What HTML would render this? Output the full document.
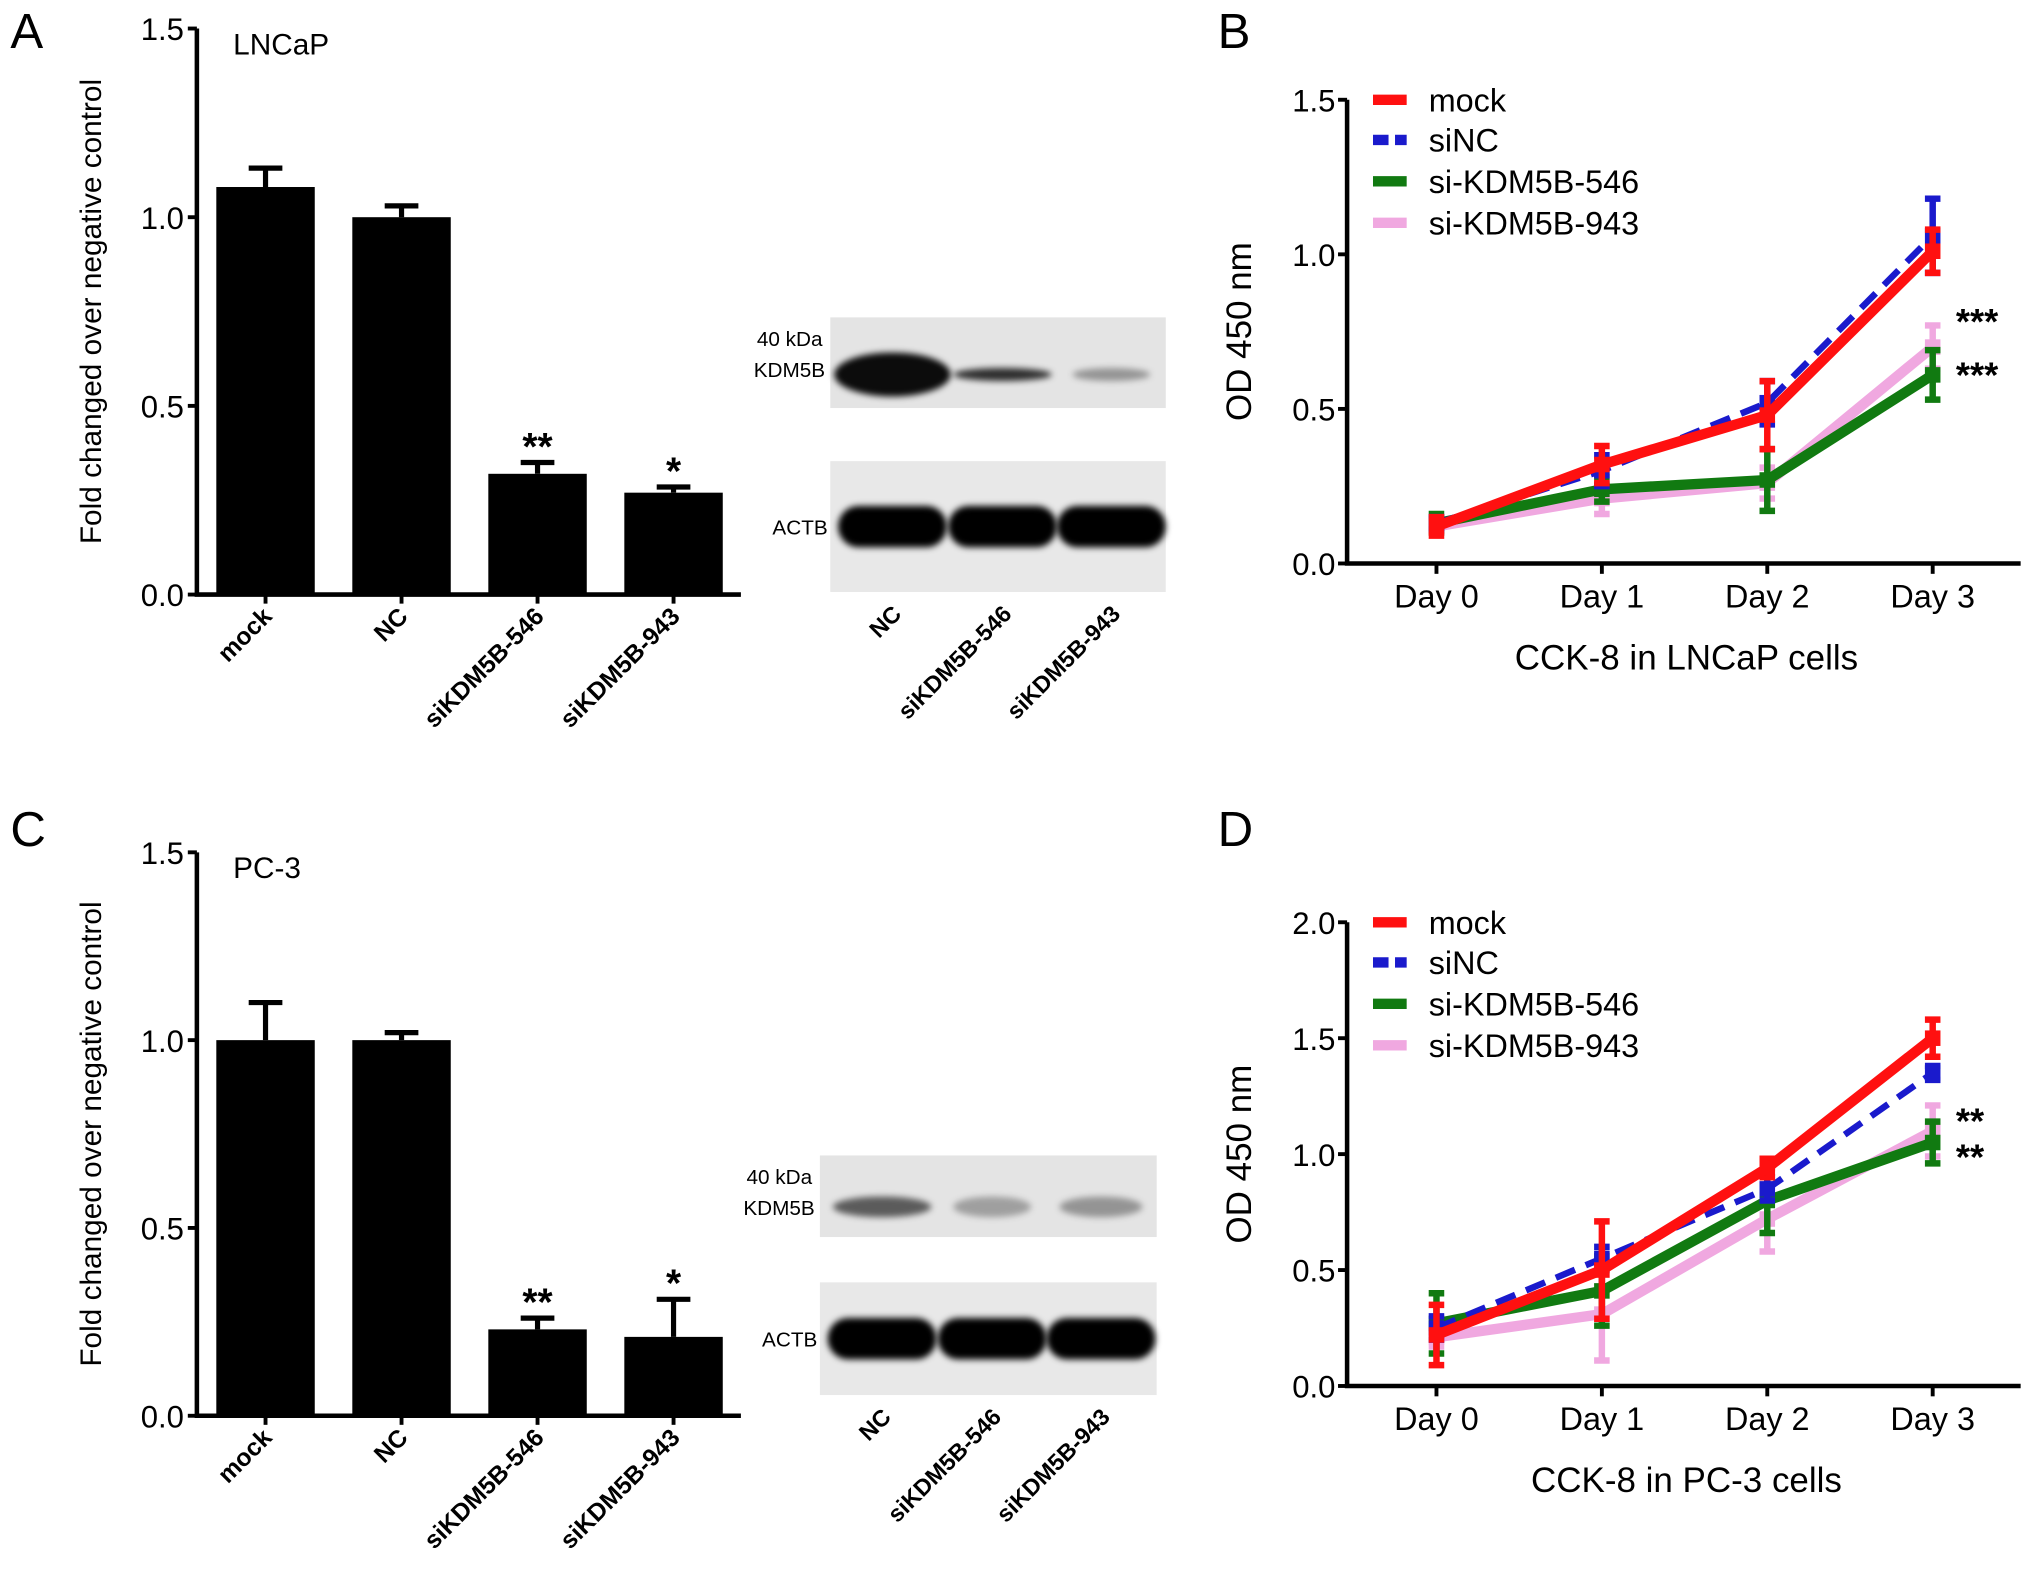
<!DOCTYPE html>
<html><head><meta charset="utf-8"><style>
html,body{margin:0;padding:0;background:#fff;}
svg{display:block;font-family:"Liberation Sans",sans-serif;}
</style></head><body>
<svg id="fig" width="2031" height="1572" viewBox="0 0 1568 1213.6" xmlns="http://www.w3.org/2000/svg">
<defs>
<filter id="blur" x="-20%" y="-50%" width="140%" height="200%"><feGaussianBlur stdDeviation="4"/></filter>
<filter id="blur2" x="-20%" y="-50%" width="140%" height="200%"><feGaussianBlur stdDeviation="2.5"/></filter>
</defs>
<text x="8" y="37" font-size="38">A</text>
<text x="940" y="37" font-size="38">B</text>
<text x="8" y="653" font-size="38">C</text>
<text x="940" y="653" font-size="38">D</text>
<g id="layer"></g>
</svg>
<script>
const barCats = ["mock","NC","siKDM5B-546","siKDM5B-943"];
const barA = [1.08,1.00,0.32,0.27];
const barAErr = [0.05,0.03,0.03,0.015];
const barAStars = ["","","**","*"];
const barC = [1.00,1.00,0.23,0.21];
const barCErr = [0.10,0.02,0.03,0.10];
const barCStars = ["","","**","*"];
const barTicks = ["0.0","0.5","1.0","1.5"];

const days = ["Day 0","Day 1","Day 2","Day 3"];
const seriesNames = ["mock","siNC","si-KDM5B-546","si-KDM5B-943"];
const bMock = [0.12,0.32,0.48,1.01];
const bSiNC = [0.13,0.30,0.52,1.06];
const b546 = [0.13,0.24,0.27,0.61];
const b943 = [0.12,0.21,0.26,0.70];
const bMockErr = [0.03,0.06,0.11,0.07];
const bSiNCErr = [0.02,0.05,0.07,0.12];
const b546Err = [0.03,0.04,0.10,0.08];
const b943Err = [0.02,0.05,0.05,0.07];
const bTicks = ["0.0","0.5","1.0","1.5"];
const dMock = [0.22,0.50,0.94,1.50];
const dSiNC = [0.25,0.55,0.85,1.35];
const d546 = [0.27,0.41,0.80,1.05];
const d943 = [0.21,0.31,0.72,1.10];
const dMockErr = [0.13,0.21,0.04,0.08];
const dSiNCErr = [0.05,0.05,0.05,0.03];
const d546Err = [0.13,0.15,0.14,0.09];
const d943Err = [0.04,0.20,0.14,0.11];
const dTicks = ["0.0","0.5","1.0","1.5","2.0"];

const NS="http://www.w3.org/2000/svg";
const L=document.getElementById('layer');
function mk(tag,at,parent){const e=document.createElementNS(NS,tag);for(const k in at)e.setAttribute(k,at[k]);(parent||L).appendChild(e);return e;}
function txt(x,y,s,at){const e=mk('text',Object.assign({x:x,y:y},at||{}));e.textContent=s;return e;}

function barChart(top,bottom,vals,errs,stars,ticks,cell,prefix){
  const x0=152,x1=572,max=1.5;
  const y=v=>bottom-(bottom-top)*v/max;
  const cx=i=>205+i*105;
  ticks.forEach((t,i)=>{const v=parseFloat(t);
    const tk=mk('line',{x1:x0-7,x2:x0,y1:y(v),y2:y(v),stroke:'#000','stroke-width':3});
    
    
    const tl=txt(x0-10,y(v)+9,t,{'font-size':24,'text-anchor':'end'});
    
    
  });
  vals.forEach((v,i)=>{
    const b=mk('rect',{x:cx(i)-38,y:y(v),width:76,height:bottom-y(v),fill:'#000'});
    
    
    const e=mk('path',{d:`M${cx(i)},${y(v)}V${y(v+errs[i])}M${cx(i)-13},${y(v+errs[i])}H${cx(i)+13}`,stroke:'#000','stroke-width':4,fill:'none'});
    
    
    if(stars[i]){const s=txt(cx(i),y(v+errs[i])-2,stars[i],{'font-size':30,'font-weight':'bold','text-anchor':'middle'});
      
      }
    const tk=mk('line',{x1:cx(i),x2:cx(i),y1:bottom,y2:bottom+7,stroke:'#000','stroke-width':3});
    
    
    const tl=txt(cx(i)+6,bottom+18,barCats[i],{'font-size':19,'font-weight':'bold','text-anchor':'end',transform:`rotate(-45 ${cx(i)+6} ${bottom+18})`});
    
    
  });
  const ax=mk('path',{d:`M${x0},${top}V${bottom}H${x1}`,stroke:'#000','stroke-width':3.5,fill:'none'});
  
  
  const yl=txt(78,(top+bottom)/2,'Fold changed over negative control',{'font-size':23,'text-anchor':'middle',transform:`rotate(-90 78 ${(top+bottom)/2})`});
  
  
  const cl=txt(180,top+20,cell,{'font-size':23});
  
  
}

function blot(x,y1,h1,y2,h2,upper,prefix,w){
  const g1=mk('rect',{x:x,y:y1,width:w,height:h1,fill:'#e4e4e4'});
  
  
  const lanes=[x+48,x+133,x+217];
  upper.forEach((u,i)=>{mk('ellipse',{cx:lanes[i],cy:y1+h1*0.63,rx:u[0],ry:u[1],fill:`rgba(0,0,0,${u[2]})`,filter:'url(#blur2)'});});
  const g2=mk('rect',{x:x,y:y2,width:w,height:h2,fill:'#e8e8e8'});
  
  
  lanes.forEach(cx=>{mk('rect',{x:cx-42,y:y2+h2*0.5-16,width:84,height:32,rx:16,fill:'#050505',filter:'url(#blur2)'});});
  txt(x-6,y1+22,'40 kDa',{'font-size':16,'text-anchor':'end'});
  txt(x-4,y1+46,'KDM5B',{'font-size':16,'text-anchor':'end'});
  txt(x-2,y2+h2*0.5+6,'ACTB',{'font-size':16,'text-anchor':'end'});
  ['NC','siKDM5B-546','siKDM5B-943'].forEach((s,i)=>{const lx=lanes[i]+8,ly=y2+h2+18;
    const t=txt(lx,ly,s,{'font-size':18,'font-weight':'bold','text-anchor':'end',transform:`rotate(-45 ${lx} ${ly})`});
    
    });
}

function lineChart(top,bottom,max,ticks,series,errs,stars,starsY,title,prefix){
  const x0=1040,x1=1560;
  const y=v=>bottom-(bottom-top)*v/max;
  const cx=i=>1109+i*127.7;
  ticks.forEach(t=>{const v=parseFloat(t);
    const tk=mk('line',{x1:x0-7,x2:x0,y1:y(v),y2:y(v),stroke:'#000','stroke-width':3});
    
    
    const tl=txt(x0-9,y(v)+9,t,{'font-size':24,'text-anchor':'end'});
    
    });
  days.forEach((d,i)=>{
    const tk=mk('line',{x1:cx(i),x2:cx(i),y1:bottom,y2:bottom+8,stroke:'#000','stroke-width':3});
    
    
    const tl=txt(cx(i),bottom+34,d,{'font-size':25,'text-anchor':'middle'});
    
    });
  const cols=['#ff1010','#1a1acc','#117a11','#f0a8e0'];
  const order=[3,2,1,0];
  order.forEach(s=>{
    const vals=series[s],er=errs[s],c=cols[s];
    vals.forEach((v,i)=>{const e=mk('path',{d:`M${cx(i)},${y(v-er[i])}V${y(v+er[i])}M${cx(i)-6},${y(v-er[i])}H${cx(i)+6}M${cx(i)-6},${y(v+er[i])}H${cx(i)+6}`,stroke:c,'stroke-width':5,fill:'none'});
      
      });
    const pts=vals.map((v,i)=>`${cx(i)},${y(v)}`).join(' ');
    const pl=mk('polyline',{points:pts,fill:'none',stroke:c,'stroke-width':s==1?5:8,'stroke-dasharray':s==1?'16 9':'none','stroke-linejoin':'round'});
    
    
    vals.forEach((v,i)=>{mk('rect',{x:cx(i)-6,y:y(v)-6,width:12,height:12,fill:c});});
  });
  stars.forEach((s,k)=>{const t=txt(1510,starsY[k],s,{'font-size':28,'font-weight':'bold'});
    
    });
  const ax=mk('path',{d:`M${x0},${top}V${bottom}H${x1}`,stroke:'#000','stroke-width':3.5,fill:'none'});
  
  
  const ly=[top,top+31,top+63,top+95];
  seriesNames.forEach((n,i)=>{
    const g=mk('g',{});
    
    
    mk('line',{x1:1060,x2:1086,y1:ly[i],y2:ly[i],stroke:cols[i],'stroke-width':8,'stroke-dasharray':i==1?'12 5':'none'},g);
    txt(1103,ly[i]+9,n,{'font-size':25},g);});
  const yl=txt(966,(top+bottom)/2,'OD 450 nm',{'font-size':27,'text-anchor':'middle',transform:`rotate(-90 966 ${(top+bottom)/2})`});
  
  
  const xt=txt(1302,bottom+82,title,{'font-size':27,'text-anchor':'middle'});
  
  
}

barChart(22,459,barA,barAErr,barAStars,barTicks,'LNCaP','panel-a');
blot(641,245,70,356,101,[[45,17,0.95],[38,5,0.8],[30,5,0.35]],'panel-a',259);
lineChart(77,435,1.5,bTicks,[bMock,bSiNC,b546,b943],[bMockErr,bSiNCErr,b546Err,b943Err],['***','***'],[258,299],'CCK-8 in LNCaP cells','panel-b');
barChart(658,1093,barC,barCErr,barCStars,barTicks,'PC-3','panel-c');
blot(633,892,63,990,87,[[38,8,0.6],[30,8,0.3],[32,8,0.35]],'panel-c',260);
lineChart(712,1070,2.0,dTicks,[dMock,dSiNC,d546,d943],[dMockErr,dSiNCErr,d546Err,d943Err],['**','**'],[875,903],'CCK-8 in PC-3 cells','panel-d');
</script>
</body></html>
